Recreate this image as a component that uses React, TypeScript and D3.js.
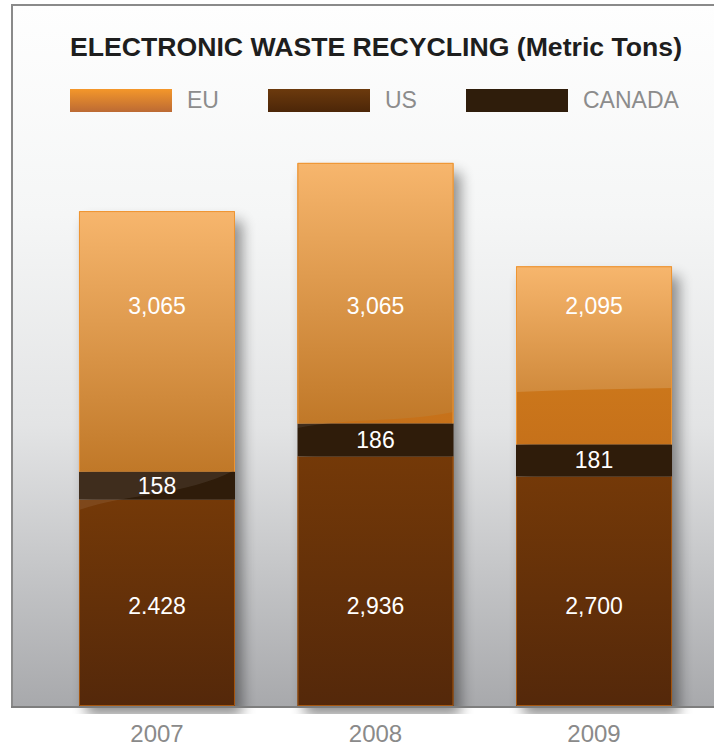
import React from 'react';
import * as d3 from 'd3';

const years = ['2007', '2008', '2009'];
const euValues = [3065, 3065, 2095];
const usValues = [2428, 2936, 2700];
const canadaValues = [158, 186, 181];
const euLabels = ['3,065', '3,065', '2,095'];
const usLabels = ['2.428', '2,936', '2,700'];
const canadaLabels = ['158', '186', '181'];
const seriesNames = ['EU', 'US', 'CANADA'];
// gloss highlight edge (y at left / right edge of each bar)
const glossLeft = [510, 428, 392];
const glossRight = [470, 412, 388];

const W = 714;
const H = 746;
const FONT = '"Liberation Sans", Arial, Helvetica, sans-serif';

export default function App() {
  const base = 706;
  const x = d3.scaleBand<string>().domain(years).range([61.5, 689.5]).paddingInner(0.286).paddingOuter(0.08);
  const y = d3.scaleLinear().domain([0, 8000]).range([base, 26]);
  const yCa = d3.scaleLinear().domain([0, 186]).range([0, 33]);
  const bw = x.bandwidth();

  const bars = years.map((yr, i) => {
    const x0 = x(yr) as number;
    const usTop = y(usValues[i]);
    const caTop = usTop - yCa(canadaValues[i]);
    const euTop = caTop - (y(0) - y(euValues[i]));
    return { yr, i, x0, usTop, caTop, euTop };
  });

  const glossPts: [number, number][] = [[0, 540]];
  bars.forEach((b) => {
    glossPts.push([b.x0, glossLeft[b.i]]);
    glossPts.push([b.x0 + bw, glossRight[b.i]]);
  });
  glossPts.push([W, 387]);
  const glossLine = d3.line().curve(d3.curveMonotoneX)(glossPts) as string;
  const aboveRegion = `${glossLine} L${W},0 L0,0 Z`;

  const legendX = (i: number) => 70 + i * 198;

  return (
    <svg width={W} height={H} style={{ position: 'absolute', left: 0, top: 0 }} fontFamily={FONT}>
      <defs>
        <linearGradient id="bg" x1="0" y1="0" x2="0" y2="1">
          <stop offset="0" stopColor="#fefefe" />
          <stop offset="0.3" stopColor="#f5f6f6" />
          <stop offset="0.6" stopColor="#e3e4e5" />
          <stop offset="1" stopColor="#a8a9ac" />
        </linearGradient>
        <linearGradient id="euGloss" x1="0" y1="0" x2="0" y2="1">
          <stop offset="0" stopColor="#f7b66d" />
          <stop offset="1" stopColor="#c07828" />
        </linearGradient>
        <linearGradient id="euBase" x1="0" y1="0" x2="0" y2="1">
          <stop offset="0" stopColor="#d6821d" />
          <stop offset="1" stopColor="#c6711a" />
        </linearGradient>
        <linearGradient id="usBase" x1="0" y1="0" x2="0" y2="1">
          <stop offset="0" stopColor="#743908" />
          <stop offset="1" stopColor="#54280a" />
        </linearGradient>
        <linearGradient id="lgEU" x1="0" y1="0" x2="0" y2="1">
          <stop offset="0" stopColor="#f4972a" />
          <stop offset="1" stopColor="#bc6a34" />
        </linearGradient>
        <linearGradient id="lgUS" x1="0" y1="0" x2="0" y2="1">
          <stop offset="0" stopColor="#6c3a0d" />
          <stop offset="1" stopColor="#4c2608" />
        </linearGradient>
        <filter id="shadow" x="-50%" y="-20%" width="200%" height="140%">
          <feGaussianBlur stdDeviation="7" />
        </filter>
        <clipPath id="panelClip">
          <rect x={12} y={5} width={W} height={base + 8 - 5} />
        </clipPath>
        <clipPath id="above">
          <path d={aboveRegion} />
        </clipPath>
      </defs>

      {/* panel */}
      <rect x={11} y={4} width={W} height={base - 4} fill="url(#bg)" />
      <line x1={11} x2={W} y1={5} y2={5} stroke="#8a8a8a" strokeWidth={2} />
      <line x1={12} x2={12} y1={4} y2={base + 1} stroke="#8a8a8a" strokeWidth={2} />

      {/* title */}
      <text x={376} y={56} textAnchor="middle" fontSize={26} fontWeight="bold" fill="#1e1e1e"
        textLength={612} lengthAdjust="spacingAndGlyphs">
        ELECTRONIC WASTE RECYCLING (Metric Tons)
      </text>

      {/* legend */}
      {seriesNames.map((s, i) => (
        <g key={s}>
          <rect x={legendX(i)} y={89} width={102} height={23}
            fill={i === 0 ? 'url(#lgEU)' : i === 1 ? 'url(#lgUS)' : '#2f1d0b'} />
          <text x={legendX(i) + 117} y={108} fontSize={23} fill="#8c8c8c">{s}</text>
        </g>
      ))}

      {/* shadows */}
      <g clipPath="url(#panelClip)">
        {bars.map((b) => (
          <rect key={b.yr} x={b.x0 + 7} y={b.euTop + 10} width={bw} height={base - b.euTop}
            fill="#000" opacity={0.42} filter="url(#shadow)" />
        ))}
      </g>

      {/* bars: base */}
      {bars.map((b) => (
        <g key={b.yr}>
          <rect x={b.x0} y={b.usTop} width={bw} height={base - b.usTop} fill="url(#usBase)" />
          <rect x={b.x0} y={b.caTop} width={bw} height={b.usTop - b.caTop} fill="#2f1c0a" />
          <rect x={b.x0} y={b.euTop} width={bw} height={b.caTop - b.euTop} fill="url(#euBase)" />
        </g>
      ))}
      {/* gloss above curve */}
      <g clipPath="url(#above)">
        {bars.map((b) => (
          <g key={b.yr}>
            <rect x={b.x0} y={b.euTop} width={bw} height={b.caTop - b.euTop} fill="url(#euGloss)" />
            <rect x={b.x0} y={b.caTop} width={bw} height={base - b.caTop} fill="#ffffff" opacity={0.08} />
          </g>
        ))}
      </g>
      {/* outlines */}
      {bars.map((b) => (
        <g key={b.yr} fill="none" strokeWidth={1}>
          <path d={`M${b.x0 + 0.5},${b.caTop} V${b.euTop + 0.5} H${b.x0 + bw - 0.5} V${b.caTop}`} stroke="#ee9532" />
          <path d={`M${b.x0 + 0.5},${b.usTop} V${base - 0.5} H${b.x0 + bw - 0.5} V${b.usTop}`} stroke="#a5560f" />
        </g>
      ))}

      {/* bottom axis line */}
      <line x1={11} x2={W} y1={base + 1} y2={base + 1} stroke="#7e7e7e" strokeWidth={2} />

      {/* value labels */}
      {bars.map((b) => {
        const cx = b.x0 + bw / 2;
        return (
          <g key={b.yr} fill="#ffffff" fontSize={23} textAnchor="middle">
            <text x={cx} y={314}>{euLabels[b.i]}</text>
            <text x={cx} y={(b.caTop + b.usTop) / 2 + 8}>{canadaLabels[b.i]}</text>
            <text x={cx} y={614}>{usLabels[b.i]}</text>
          </g>
        );
      })}

      {/* year labels */}
      {bars.map((b) => (
        <text key={b.yr} x={b.x0 + bw / 2} y={742} fontSize={24} fill="#8a8a8a" textAnchor="middle">{b.yr}</text>
      ))}
    </svg>
  );
}
